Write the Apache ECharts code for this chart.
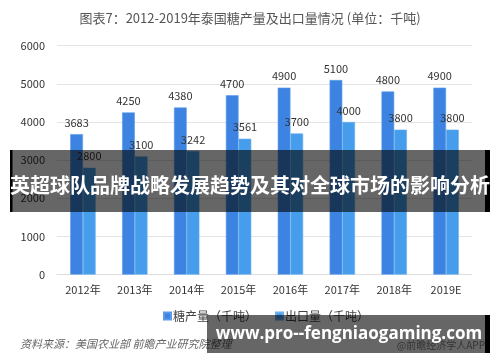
<!DOCTYPE html>
<html>
<head>
<meta charset="utf-8">
<script src="https://cdn.jsdelivr.net/npm/echarts@6/dist/echarts.min.js"></script>
<style>html,body{margin:0;padding:0;background:#fff}#c{width:500px;height:362px}</style>
</head>
<body>
<div id="c"></div>
<script>
var categories = ['2012年','2013年','2014年','2015年','2016年','2017年','2018年','2019E'];
var production = [3683, 4250, 4380, 4700, 4900, 5100, 4800, 4900];
var exportVol = [2800, 3100, 3242, 3561, 3700, 4000, 3800, 3800];
var seriesNames = ['糖产量（千吨）', '出口量（千吨）'];
var titleText = '图表7：2012-2019年泰国糖产量及出口量情况 (单位：千吨)';
var sourceText = '资料来源：美国农业部 前瞻产业研究院整理';
var bannerText = '英超球队品牌战略发展趋势及其对全球市场的影响分析';
var urlText = 'www.pro--fengniaogaming.com';
var appText = '@前瞻经济学人APP';

var FONT = '"Noto Sans CJK SC", "Noto Sans", sans-serif';
var chart = echarts.init(document.getElementById('c'), null, {renderer: 'canvas'});
chart.setOption({
  animation: false,
  textStyle: {fontFamily: FONT},
  title: {
    text: titleText, left: 'center', top: 7,
    textStyle: {fontSize: 13, fontWeight: 'normal', color: '#555', fontFamily: FONT}
  },
  grid: {left: 57, right: 28, top: 45.7, bottom: 87.4, containLabel: false},
  legend: {
    data: seriesNames, top: 305, left: 158, itemGap: 18,
    icon: 'rect', itemWidth: 7, itemHeight: 7,
    textStyle: {fontSize: 12, color: '#444', fontFamily: FONT, padding: [0,0,0,-3]}
  },
  xAxis: {
    type: 'category', data: categories,
    axisLine: {lineStyle: {color: '#ddd', width: 1}},
    axisTick: {show: false},
    axisLabel: {fontSize: 11, color: '#333', margin: 10, fontFamily: FONT}
  },
  yAxis: {
    type: 'value', min: 0, max: 6000, interval: 1000,
    axisLine: {show: false}, axisTick: {show: false},
    axisLabel: {fontSize: 11, color: '#333', margin: 12, fontFamily: FONT,
      formatter: function (v) { return String(v); }},
    splitLine: {lineStyle: {color: '#e4e4e4', width: 1}}
  },
  series: [
    {name: seriesNames[0], type: 'bar', data: production, barWidth: 12.7, barGap: '0%',
     itemStyle: {color: '#3d84e2', borderColor: '#5b9ae9', borderWidth: 0.6},
     label: {show: true, position: 'top', fontSize: 11, color: '#333', distance: 6, fontFamily: FONT}},
    {name: seriesNames[1], type: 'bar', data: exportVol, barWidth: 12.7,
     itemStyle: {color: '#459deb', borderColor: '#6ab0ef', borderWidth: 0.6},
     label: {show: true, position: 'top', fontSize: 11, color: '#333', distance: 6, fontFamily: FONT}}
  ],
  graphic: [
    {type: 'text', left: 20, top: 338, z: 50,
     style: {text: sourceText, fill: '#666', font: 'italic 11px ' + FONT}},
    {type: 'rect', shape: {x: 12, y: 150, width: 473, height: 62}, z: 100,
     style: {fill: 'rgba(0,0,0,0.6)'}},
    {type: 'rect', shape: {x: 10, y: 150, width: 2.5, height: 62}, z: 100, style: {fill: '#000'}},
    {type: 'rect', shape: {x: 485, y: 150, width: 5, height: 62}, z: 100, style: {fill: '#000'}},
    {type: 'text', x: 250, y: 185, z: 101,
     style: {text: bannerText, fill: '#fff', font: 'bold 20px ' + FONT, textAlign: 'center', textVerticalAlign: 'middle'}},
    {type: 'rect', shape: {x: 207, y: 315, width: 278, height: 38}, z: 100, style: {fill: 'rgba(0,0,0,0.6)'}},
    {type: 'rect', shape: {x: 485, y: 315, width: 5, height: 38}, z: 100, style: {fill: '#000'}},
    {type: 'text', x: 485, y: 345, z: 100.5,
     style: {text: appText, fill: '#333', font: '10px ' + FONT, textAlign: 'right', textVerticalAlign: 'middle'}},
    {type: 'text', x: 349, y: 334, z: 101,
     style: {text: urlText, fill: '#fff', font: 'bold 17px "Open Sans", "DejaVu Sans", sans-serif', textAlign: 'center', textVerticalAlign: 'middle'}}
  ]
});
</script>
</body>
</html>
